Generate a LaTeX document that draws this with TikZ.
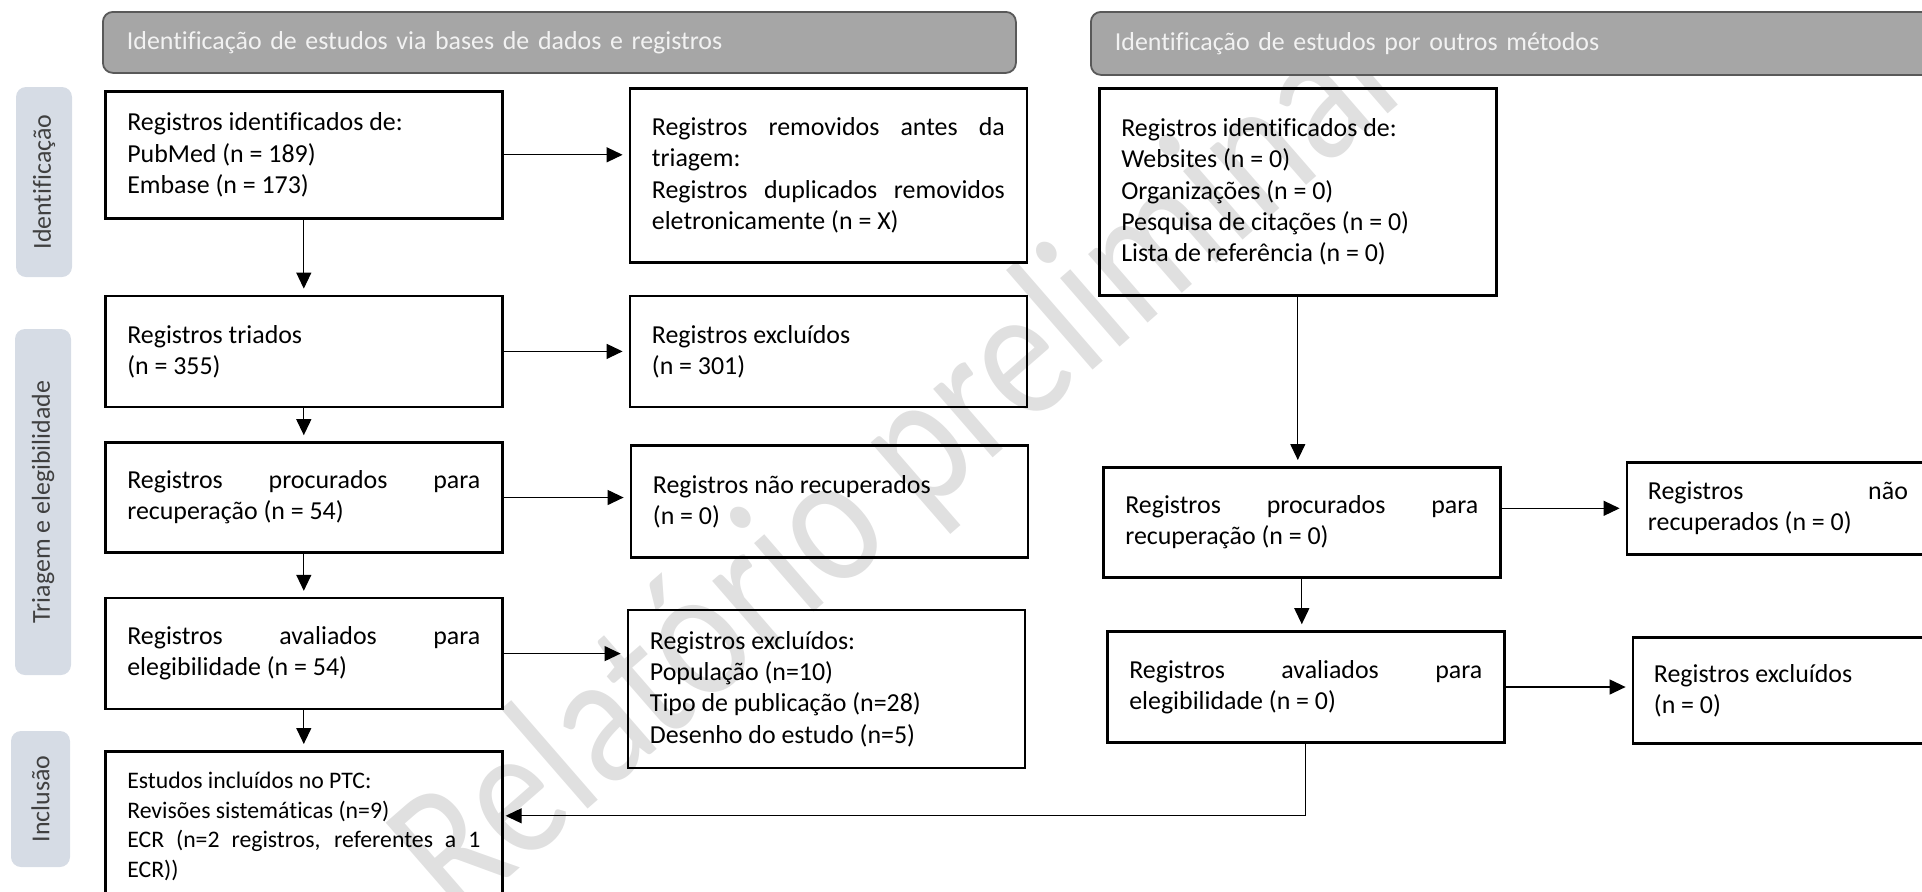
\documentclass[tikz,border=0pt]{standalone}
\usepackage{fontspec}
\setmainfont{Carlito}[Ligatures=NoCommon]
\usepackage{tikz}
\usetikzlibrary{arrows.meta,positioning}
\definecolor{headgray}{RGB}{166,166,166}
\definecolor{headline}{RGB}{89,89,89}
\definecolor{headtext}{RGB}{242,242,242}
\definecolor{sideblue}{RGB}{214,220,229}
\definecolor{sidetext}{RGB}{64,64,64}
\definecolor{markgray}{RGB}{224,224,224}
\tikzset{
  prismabox/.style={
    rectangle,
    draw=black,
    line width=1.3pt,
    align=justify,
    text width=176.5pt,
    inner xsep=11pt,
    inner ysep=3pt,
    font=\fontsize{12.95}{15.6}\selectfont
  },
  prismahead/.style={
    rectangle,
    rounded corners=5pt,
    fill=headgray,
    draw=headline,
    line width=0.9pt,
    text=headtext,
    align=left,
    anchor=north west,
    inner xsep=12pt,
    minimum height=30.5pt,
    font=\fontsize{12.95}{15.6}\selectfont
  },
  prismaside/.style={
    rectangle,
    rounded corners=5pt,
    fill=sideblue,
    text=sidetext,
    rotate=90,
    minimum height=28pt,
    font=\fontsize{12.95}{15.6}\selectfont
  },
  prismaarrow/.style={
    -{Triangle[length=8pt,width=7.5pt]},
    line width=0.6pt,
    shorten >=3pt
  }
}

\begin{document}
\begin{tikzpicture}[x=0.5pt,y=-0.5pt]
\useasboundingbox (0,0) rectangle (1922,891);
\clip (0,0) rectangle (1922,891);

% watermark
\node[rotate=41, xscale=0.83, text=markgray, font=\fontsize{95}{95}\selectfont] (marca) at (907,465) {Relatório preliminar};

% headers and phases
\node[prismahead, text width=432.5pt] (headbases) at (102,11) {Identificação de estudos via bases de dados e registros};
\node[prismahead, text width=450pt, minimum height=31.5pt] (headoutros) at (1090,11) {Identificação de estudos por outros métodos};
\node[prismaside, minimum width=95pt] (sideid) at (44,182) {Identificação};
\node[prismaside, minimum width=173pt] (sidetri) at (43,502) {Triagem e elegibilidade};
\node[prismaside, minimum width=68pt, minimum height=29.5pt] (sideinc) at (40.5,799) {Inclusão};

% bases de dados
\node[prismabox, anchor=north west, minimum height=63.5pt] (ident) at (104,90) {Registros identificados de:\\PubMed (n = 189)\\Embase (n = 173)};
\node[prismabox, minimum height=87pt, right=62.5pt of ident.north east, anchor=north west, yshift=1.5pt] (removed) {Registros removidos antes da\linebreak triagem:\\Registros duplicados removidos\linebreak eletronicamente (n = X)};
\node[prismabox, minimum height=55.5pt, below=37.5pt of ident] (triados) {Registros triados\\(n = 355)};
\node[prismabox, minimum height=55.5pt, right=62.5pt of triados] (excl) {Registros excluídos\\(n = 301)};
\node[prismabox, minimum height=55pt, below=16.5pt of triados] (procur) {Registros procurados para\linebreak recuperação (n = 54)};
\node[prismabox, minimum height=56pt, right=63pt of procur, yshift=-2pt] (naorec) {Registros não recuperados\\(n = 0)};
\node[prismabox, minimum height=55.5pt, below=21.5pt of procur] (aval) {Registros avaliados para\linebreak elegibilidade (n = 54)};
\node[prismabox, minimum height=79pt, right=61.5pt of aval, yshift=-17.75pt] (exclmot) {Registros excluídos:\\População (n=10)\\Tipo de publicação (n=28)\\Desenho do estudo (n=5)};
\node[prismabox, minimum height=75pt, below=19.8pt of aval, font=\fontsize{11.87}{14.75}\selectfont] (incl) {Estudos incluídos no PTC:\\Revisões sistemáticas (n=9)\\ECR (n=2 registros, referentes a 1\linebreak ECR))};

% outros metodos
\node[prismabox, anchor=north west, minimum height=103.5pt] (outros) at (1098,87) {Registros identificados de:\\Websites (n = 0)\\Organizações (n = 0)\\Pesquisa de citações (n = 0)\\Lista de referência (n = 0)};
\node[prismabox, minimum height=55pt, below=84.7pt of outros, xshift=2pt] (procurout) {Registros procurados para\linebreak recuperação (n = 0)};
\node[prismabox, minimum height=55.5pt, below=25.8pt of procurout, xshift=2pt] (avalout) {Registros avaliados para\linebreak elegibilidade (n = 0)};
\node[prismabox, text width=130pt, inner xsep=10.5pt, minimum height=46pt, right=62pt of procurout, yshift=7pt] (naorecout) {Registros não\linebreak recuperados (n = 0)};
\node[prismabox, text width=130pt, inner xsep=10.5pt, minimum height=53pt, right=63pt of avalout, yshift=-1.75pt] (exclout) {Registros excluídos\\(n = 0)};

\draw[prismaarrow] (ident.east) -- (ident.east -| removed.west);
\draw[prismaarrow] (ident.south) -- (ident.south |- triados.north);
\draw[prismaarrow] (triados.east) -- (triados.east -| excl.west);
\draw[prismaarrow] (triados.south) -- (triados.south |- procur.north);
\draw[prismaarrow] (procur.east) -- (procur.east -| naorec.west);
\draw[prismaarrow] (procur.south) -- (procur.south |- aval.north);
\draw[prismaarrow] (aval.east) -- (aval.east -| exclmot.west);
\draw[prismaarrow] (aval.south) -- (aval.south |- incl.north);

\draw[prismaarrow] (outros.south) -- (outros.south |- procurout.north);
\draw[prismaarrow] (naorecout.west -| procurout.east) -- (naorecout.west);
\draw[prismaarrow] (procurout.south) -- (procurout.south |- avalout.north);
\draw[prismaarrow] (avalout.east) -- (avalout.east -| exclout.west);
\draw[prismaarrow, shorten >=1pt] (avalout.south) -- ++(0,72) coordinate (juncao) -- (juncao -| incl.east);
\end{tikzpicture}
\end{document}
